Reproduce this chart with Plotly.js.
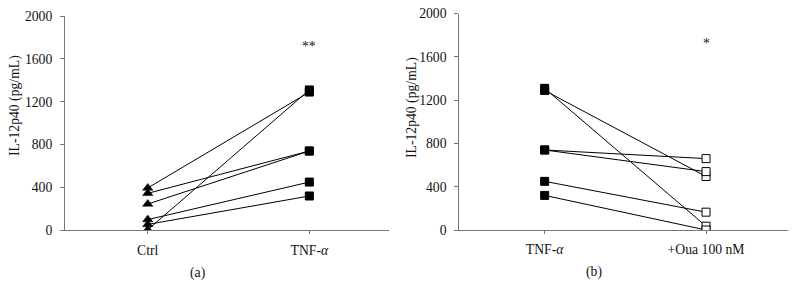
<!DOCTYPE html>
<html>
<head>
<meta charset="utf-8">
<script src="https://cdn.plot.ly/plotly-3.0.1.min.js"></script>
<style>html,body{margin:0;padding:0;background:#fff;}#chart{width:796px;height:287px;}</style>
</head>
<body>
<div id="chart"></div>
<script>
// Panel (a): Ctrl vs TNF-α
var groupsA = ['Ctrl', 'TNF-α'];
var ctrlA = [395, 5, 345, 245, 100, 55];
var tnfA  = [1290, 1310, 740, 740, 450, 320];
// Panel (b): TNF-α vs +Oua 100 nM
var groupsB = ['TNF-α', '+Oua 100 nM'];
var tnfB  = [1290, 1310, 740, 740, 450, 320];
var ouaB  = [495, 35, 660, 540, 165, 0];
var yTicks = [0, 400, 800, 1200, 1600, 2000];
var tickLabelsA = ['Ctrl', 'TNF-<i>α</i>'];
var tickLabelsB = ['TNF-<i>α</i>', '+Oua 100 nM'];
var sigA = '**';
var sigB = '*';
var sigY = 1720;

var W = 796, H = 287;
function px(x){ return x / W; }
function py(y){ return (H - y) / H; }

function rep(v, n){ var a = []; for (var k = 0; k < n; k++) a.push(v); return a; }

var traces = [];
// connecting lines
for (var i = 0; i < ctrlA.length; i++) {
  traces.push({
    x: groupsA, y: [ctrlA[i], tnfA[i]], xaxis: 'x', yaxis: 'y',
    mode: 'lines', type: 'scatter', showlegend: false, hoverinfo: 'skip',
    line: {color: '#000', width: 1}
  });
}
for (var j = 0; j < tnfB.length; j++) {
  traces.push({
    x: groupsB, y: [tnfB[j], ouaB[j]], xaxis: 'x2', yaxis: 'y2',
    mode: 'lines', type: 'scatter', showlegend: false, hoverinfo: 'skip',
    line: {color: '#000', width: 1}
  });
}
// markers
traces.push({x: rep(groupsA[0], ctrlA.length), y: ctrlA, xaxis: 'x', yaxis: 'y', mode: 'markers',
  type: 'scatter', showlegend: false, hoverinfo: 'skip',
  marker: {symbol: 'triangle-up', size: 9, color: '#000', opacity: 1, line: {color: '#000', width: 0.5}}});
traces.push({x: rep(groupsA[1], tnfA.length), y: tnfA, xaxis: 'x', yaxis: 'y', mode: 'markers',
  type: 'scatter', showlegend: false, hoverinfo: 'skip',
  marker: {symbol: 'square', size: 8, color: '#000', opacity: 1, line: {color: '#000', width: 1}}});
traces.push({x: rep(groupsB[0], tnfB.length), y: tnfB, xaxis: 'x2', yaxis: 'y2', mode: 'markers',
  type: 'scatter', showlegend: false, hoverinfo: 'skip',
  marker: {symbol: 'square', size: 8, color: '#000', opacity: 1, line: {color: '#000', width: 1}}});
traces.push({x: rep(groupsB[1], ouaB.length), y: ouaB, xaxis: 'x2', yaxis: 'y2', mode: 'markers',
  type: 'scatter', showlegend: false, hoverinfo: 'skip',
  marker: {symbol: 'square', size: 8, color: '#fff', opacity: 1, line: {color: '#000', width: 1}}});

var font = {family: 'Liberation Serif, Times New Roman, serif', size: 13.7, color: '#111'};
function yax(dom, anchor) {
  return {
    domain: dom, anchor: anchor, range: [0, 2000], tickvals: yTicks,
    showline: true, linecolor: '#777', linewidth: 1, ticks: 'outside', ticklen: 4,
    tickcolor: '#777', showgrid: false, zeroline: false, tickfont: font, ticklabelstandoff: 5,
    fixedrange: true
  };
}
function xax(dom, anchor, cats, labels, range) {
  return {
    domain: dom, anchor: anchor, type: 'category', categoryarray: cats, range: range,
    tickvals: cats, ticktext: labels, showline: true, linecolor: '#777', linewidth: 1,
    ticks: 'outside', ticklen: 3, tickcolor: '#777', showgrid: false, zeroline: false,
    tickfont: font, ticklabelstandoff: 4, fixedrange: true
  };
}

var layout = {
  width: W, height: H, margin: {l: 0, r: 0, t: 0, b: 0},
  paper_bgcolor: '#fff', plot_bgcolor: '#fff', font: font, showlegend: false,
  xaxis: xax([px(65), px(389)], 'y', groupsA, tickLabelsA, [-0.512, 1.493]),
  yaxis: yax([py(230.3), py(16)], 'x'),
  xaxis2: xax([px(459.3), px(787.7)], 'y2', groupsB, tickLabelsB, [-0.529, 1.506]),
  yaxis2: yax([py(230), py(13.7)], 'x2'),
  annotations: [
    {text: 'IL-12p40 (pg/mL)', textangle: -90, xref: 'paper', yref: 'paper', x: px(15), y: py(106),
     showarrow: false, font: font, xanchor: 'center', yanchor: 'middle'},
    {text: 'IL-12p40 (pg/mL)', textangle: -90, xref: 'paper', yref: 'paper', x: px(412), y: py(108),
     showarrow: false, font: font, xanchor: 'center', yanchor: 'middle'},
    {text: '(a)', xref: 'paper', yref: 'paper', x: px(197), y: py(273), showarrow: false, font: font,
     xanchor: 'center', yanchor: 'middle'},
    {text: '(b)', xref: 'paper', yref: 'paper', x: px(594), y: py(272), showarrow: false, font: font,
     xanchor: 'center', yanchor: 'middle'},
    {text: sigA, xref: 'x', yref: 'y', x: groupsA[1], y: sigY, showarrow: false, font: font,
     xanchor: 'center', yanchor: 'middle'},
    {text: sigB, xref: 'x2', yref: 'y2', x: groupsB[1], y: sigY, showarrow: false, font: font,
     xanchor: 'center', yanchor: 'middle'}
  ]
};

Plotly.newPlot('chart', traces, layout, {staticPlot: true, displayModeBar: false});
</script>
</body>
</html>
